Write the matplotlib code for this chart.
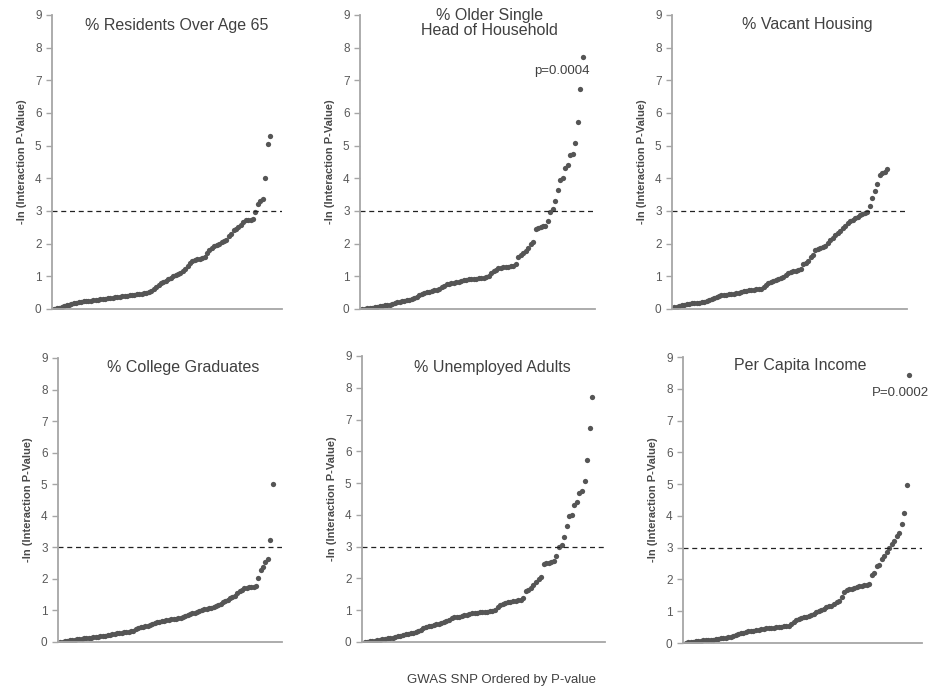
import matplotlib
matplotlib.use('Agg')
import matplotlib.pyplot as plt

plt.rcParams['font.family'] = ['Liberation Sans', 'DejaVu Sans']

# -ln(interaction p-value) for each GWAS SNP, sorted ascending
resid_over_65 = [
    0.00, 0.02, 0.04, 0.07, 0.09, 0.11, 0.13, 0.15, 0.17, 0.19,
    0.21, 0.22, 0.23, 0.24, 0.25, 0.25, 0.26, 0.28, 0.29, 0.30,
    0.31, 0.32, 0.33, 0.34, 0.35, 0.36, 0.37, 0.38, 0.39, 0.40,
    0.41, 0.42, 0.43, 0.44, 0.45, 0.46, 0.47, 0.48, 0.50, 0.52,
    0.55, 0.60, 0.68, 0.74, 0.79, 0.83, 0.87, 0.91, 0.96, 1.00,
    1.04, 1.07, 1.11, 1.15, 1.22, 1.32, 1.42, 1.47, 1.50, 1.52,
    1.53, 1.55, 1.58, 1.70, 1.80, 1.87, 1.92, 1.96, 2.00, 2.05,
    2.08, 2.12, 2.24, 2.30, 2.42, 2.45, 2.50, 2.58, 2.65, 2.71,
    2.72, 2.73, 2.75, 2.98, 3.22, 3.30, 3.36, 4.00, 5.05, 5.28,
]

older_single = [
    0.00, 0.01, 0.02, 0.03, 0.04, 0.05, 0.06, 0.08, 0.10, 0.11,
    0.12, 0.13, 0.15, 0.18, 0.20, 0.22, 0.24, 0.25, 0.27, 0.29,
    0.31, 0.34, 0.38, 0.43, 0.47, 0.49, 0.51, 0.53, 0.55, 0.57,
    0.59, 0.62, 0.66, 0.70, 0.75, 0.77, 0.78, 0.80, 0.82, 0.84,
    0.86, 0.88, 0.90, 0.91, 0.92, 0.93, 0.93, 0.94, 0.95, 0.96,
    0.97, 1.00, 1.10, 1.15, 1.20, 1.24, 1.26, 1.27, 1.28, 1.30,
    1.31, 1.33, 1.38, 1.60, 1.65, 1.70, 1.78, 1.88, 1.98, 2.05,
    2.45, 2.48, 2.50, 2.53, 2.55,
    2.70, 2.98, 3.05, 3.30, 3.65, 3.95, 4.00, 4.30, 4.40, 4.70,
    4.75, 5.07, 5.73, 6.73, 7.72,
]

vacant_housing = [
    0.05, 0.07, 0.09, 0.11, 0.13, 0.15, 0.16, 0.17, 0.18, 0.18,
    0.19, 0.20, 0.21, 0.25, 0.28, 0.31, 0.34, 0.37, 0.40, 0.42,
    0.43, 0.44, 0.45, 0.46, 0.47, 0.48, 0.50, 0.52, 0.54, 0.56,
    0.57, 0.58, 0.59, 0.60, 0.61, 0.62, 0.66, 0.72, 0.78, 0.84,
    0.87, 0.89, 0.91, 0.94, 0.97, 1.05, 1.10, 1.13, 1.15, 1.17,
    1.19, 1.22, 1.38, 1.42, 1.48, 1.60, 1.65, 1.80, 1.84, 1.87,
    1.90, 1.92, 2.02, 2.10, 2.18, 2.25, 2.32, 2.40, 2.48, 2.55,
    2.62, 2.68, 2.73, 2.78, 2.83, 2.87, 2.91, 2.95, 2.98,
    3.15, 3.40, 3.60, 3.83, 4.10, 4.15, 4.20, 4.28,
]

college_grads = [
    0.00, 0.01, 0.02, 0.04, 0.05, 0.06, 0.07, 0.08, 0.09, 0.10,
    0.11, 0.12, 0.13, 0.14, 0.15, 0.16, 0.17, 0.18, 0.19, 0.20,
    0.21, 0.22, 0.24, 0.26, 0.28, 0.29, 0.30, 0.31, 0.32, 0.33,
    0.34, 0.36, 0.40, 0.43, 0.46, 0.48, 0.50, 0.52, 0.55, 0.58,
    0.60, 0.62, 0.64, 0.66, 0.68, 0.70, 0.71, 0.72, 0.73, 0.74,
    0.75, 0.76, 0.78, 0.82, 0.85, 0.88, 0.91, 0.93, 0.95, 0.98,
    1.00, 1.03, 1.05, 1.07, 1.09, 1.11, 1.13, 1.16, 1.21, 1.26,
    1.30, 1.34, 1.38, 1.42, 1.46, 1.55, 1.62, 1.66, 1.70, 1.72,
    1.73, 1.74, 1.75, 1.76, 2.02, 2.28, 2.37, 2.55, 2.62, 3.22, 5.00,
]

# the unemployed panel shows the same curve as the older single panel
unemployed = list(older_single)

per_capita_income = [
    0.00, 0.02, 0.03, 0.04, 0.05, 0.06, 0.07, 0.08, 0.08, 0.09,
    0.10, 0.11, 0.12, 0.14, 0.15, 0.16, 0.17, 0.18, 0.20, 0.23,
    0.26, 0.29, 0.32, 0.33, 0.35, 0.37, 0.38, 0.39, 0.40, 0.42,
    0.44, 0.45, 0.46, 0.47, 0.47, 0.48, 0.49, 0.50, 0.51, 0.52,
    0.52, 0.53, 0.60, 0.66, 0.72, 0.76, 0.80, 0.82, 0.83, 0.85,
    0.88, 0.92, 0.96, 1.00, 1.04, 1.08, 1.12, 1.15, 1.18, 1.23,
    1.28, 1.32, 1.45, 1.60, 1.67, 1.69, 1.71, 1.73, 1.75, 1.78,
    1.80, 1.82, 1.84, 1.86,
    2.13, 2.20, 2.42, 2.45, 2.63, 2.74, 2.86, 3.00, 3.10, 3.20,
    3.37, 3.45, 3.74, 4.08, 4.98, 8.42,
]

titles = ['% Residents Over Age 65', '% Older Single\nHead of Household',
          '% Vacant Housing', '% College Graduates',
          '% Unemployed Adults', 'Per Capita Income']
series = [resid_over_65, older_single, vacant_housing,
          college_grads, unemployed, per_capita_income]

threshold = 3.0
ylabel = '-ln (Interaction P-Value)'

# axes boxes [left, bottom, width, height] in figure fractions
boxes = [
    [0.0557, 0.5535, 0.2463, 0.4249],
    [0.3854, 0.5535, 0.2516, 0.4249],
    [0.7195, 0.5535, 0.2516, 0.4249],
    [0.0621, 0.0723, 0.2398, 0.4104],
    [0.3876, 0.0723, 0.2602, 0.4133],
    [0.7313, 0.0708, 0.2559, 0.4133],
]
title_pos = [(0.54, 0.965), (0.55, 0.972), (0.574, 0.966),
             (0.56, 0.965), (0.535, 0.958), (0.49, 0.972)]

fig = plt.figure(figsize=(9.34, 6.92), dpi=100)
axis_grey = '#a6a6a6'
text_grey = '#595959'

axes = []
for box, vals, title, tp in zip(boxes, series, titles, title_pos):
    ax = fig.add_axes(box)
    x = list(range(1, len(vals) + 1))
    ax.plot(x, vals, linestyle='none', marker='o', markersize=3.8,
            color='#555555', markeredgewidth=0)
    ax.axhline(threshold, color='#222222', linestyle=(0, (4, 3)), linewidth=0.9)
    ax.set_xlim(0, 95)
    ax.set_ylim(0, 9)
    ax.set_yticks(range(10))
    ax.set_xticks([])
    for s in ['top', 'right']:
        ax.spines[s].set_visible(False)
    for s in ['left', 'bottom']:
        ax.spines[s].set_color(axis_grey)
        ax.spines[s].set_linewidth(1.3)
    ax.tick_params(axis='y', colors=axis_grey, labelcolor=text_grey,
                   labelsize=8.5, length=4, width=1, direction='out')
    ax.set_ylabel(ylabel, fontsize=8, color='#4a4a4a', fontweight='bold', labelpad=6)
    ax.text(tp[0], tp[1], title, transform=ax.transAxes, ha='center', va='center',
            fontsize=11.5, color='#404040', linespacing=1.0)
    axes.append(ax)

axes[1].text(0.86, 7.29, 'p=0.0004', transform=axes[1].get_yaxis_transform(),
             ha='center', va='center', fontsize=9.5, color='#404040')
axes[5].text(0.91, 7.87, 'P=0.0002', transform=axes[5].get_yaxis_transform(),
             ha='center', va='center', fontsize=9.5, color='#404040')

fig.text(502 / 934, 1 - 680 / 692, 'GWAS SNP Ordered by P-value', ha='center',
         va='center', fontsize=9.5, color='#404040')

fig.savefig('out.png', dpi=100, facecolor='white')
